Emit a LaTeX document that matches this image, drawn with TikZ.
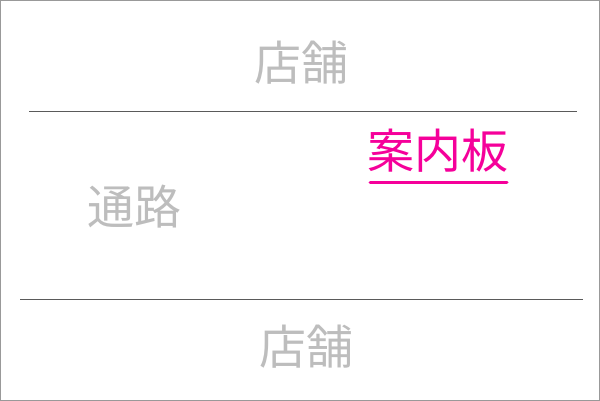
\documentclass[tikz,border=0pt]{standalone}
\usepackage{fontspec}
\newfontfamily\jpfont{Noto Sans CJK JP}
\definecolor{shopgray}{HTML}{BDBDBD}
\definecolor{signpink}{HTML}{F5009A}
\definecolor{linegray}{HTML}{5A5A5A}
\tikzset{
  label text/.style={font=\jpfont\fontsize{47}{47}\selectfont, text=shopgray, inner sep=0pt},
  sign text/.style={font=\jpfont\fontsize{47}{47}\selectfont, text=signpink, inner sep=0pt},
}

\begin{document}
\begin{tikzpicture}[x=1pt,y=-1pt]

% Frame
\draw[gray!80, line width=1pt] (0.5,0.5) rectangle (599.5,400.5);
\useasboundingbox (0,0) rectangle (600,401);

% Shops and passage
\node[label text] (shopTop) at (301,63) {店舗};
\node[label text] (passage) at (134,207) {通路};
\node[label text] (shopBottom) at (306,347) {店舗};

% Walls
\coordinate (wallTopL) at (29,111);
\coordinate (wallTopR) at (577,111);
\coordinate (wallBotL) at (20,299);
\coordinate (wallBotR) at (583,299);
\draw[linegray, line width=0.9pt] (wallTopL) -- (wallTopR);
\draw[linegray, line width=0.9pt] (wallBotL) -- (wallBotR);

% Sign board
\node[sign text] (sign) at (438,151) {案内板};
\coordinate (signL) at (370,183);
\coordinate (signR) at (507,183);
\draw[signpink, line width=3pt, line cap=round] (signL) -- (signR);

\end{tikzpicture}
\end{document}
